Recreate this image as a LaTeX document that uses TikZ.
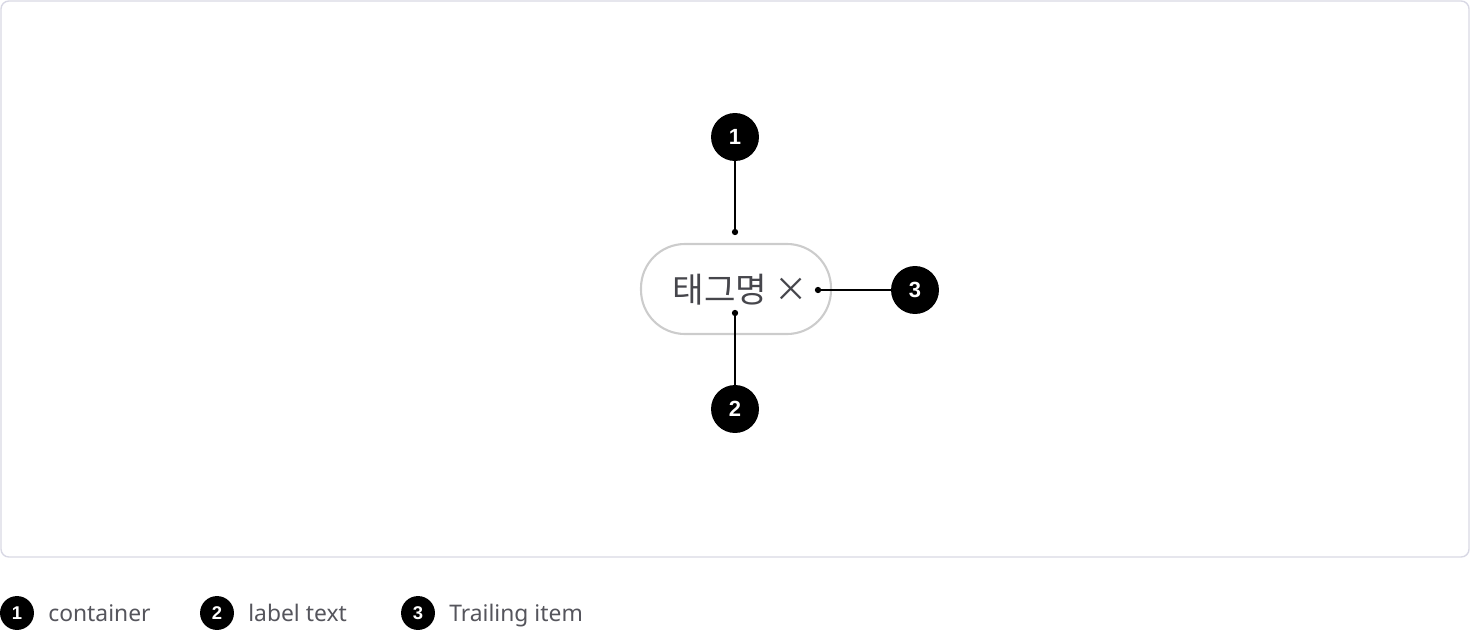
\documentclass[tikz,border=0pt]{standalone}
\usepackage{fontspec}
\setmainfont{Noto Sans}
\newfontfamily\kofont{Noto Sans CJK KR}
\newfontfamily\numfont{Liberation Sans}
\definecolor{framegray}{HTML}{D8D8E4}
\definecolor{pillgray}{HTML}{CCCCCC}
\definecolor{textgray}{HTML}{46464C}
\definecolor{legendgray}{HTML}{55555C}
\tikzset{
  badge/.style={circle,fill=black,text=white,inner sep=0pt,minimum size=27.3pt,font=\numfont\bfseries\fontsize{12.5}{12.5}\selectfont},
  smallbadge/.style={circle,fill=black,text=white,inner sep=0pt,minimum size=19.3pt,font=\numfont\bfseries\fontsize{10.5}{10.5}\selectfont},
  legendtext/.style={anchor=base west,text=legendgray,inner sep=0pt,font=\fontsize{13}{13}\selectfont},
  pin/.style={line width=0.8pt},
  pindot/.style={circle,fill=black,inner sep=0pt,minimum size=3.6pt}
}
\begin{document}
\begin{tikzpicture}[x=0.02cm,y=-0.02cm]
    \useasboundingbox (0,0) rectangle (1470,632);
    % frame
    \draw[framegray,line width=0.8pt,rounded corners=4.5pt] (1,1) rectangle (1469,557);
    % tag
    \draw[pillgray,line width=1.2pt,rounded corners=25pt] (641,244) rectangle (831,334);
    \node[text=textgray,font=\kofont\fontsize{19.5}{19.5}\selectfont] (lbl) at (720,290) {태그명};
    \node[text=textgray,font=\kofont\fontsize{19}{19}\selectfont] (close) at (791,290) {×};
    % markers
    \node[pindot] (d1) at (735,232) {};
    \node[pindot] (d2) at (735,313) {};
    \node[pindot] (d3) at (818,290) {};
    \node[badge] (b1) at (735,137) {1};
    \node[badge] (b2) at (735,409) {2};
    \node[badge] (b3) at (915,290) {3};
    \draw[pin] (b1) -- (d1.center);
    \draw[pin] (b2) -- (d2.center);
    \draw[pin] (b3) -- (d3.center);
    % legend
    \node[smallbadge] (l1) at (17,613) {1};
    \node[legendtext] (t1) at (48,621) {container};
    \node[smallbadge] (l2) at (217,613) {2};
    \node[legendtext] (t2) at (248,621) {label text};
    \node[smallbadge] (l3) at (418,613) {3};
    \node[legendtext] (t3) at (449,621) {Trailing item};
\end{tikzpicture}
\end{document}
